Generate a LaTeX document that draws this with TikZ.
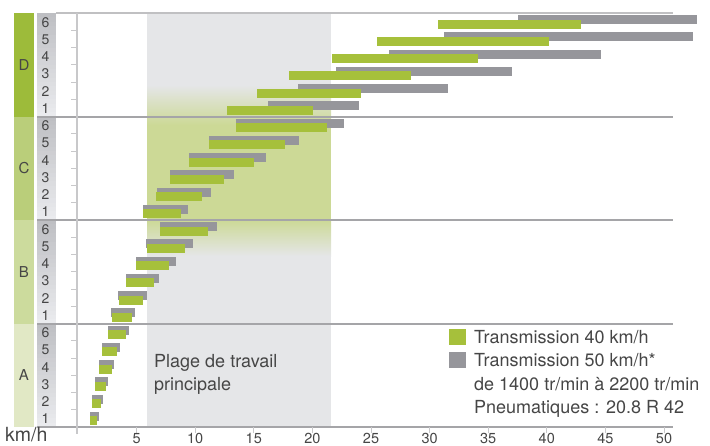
\documentclass[tikz,border=0pt]{standalone}
\usepackage{fontspec}
\setmainfont{TeX Gyre Heros}
\definecolor{barg}{RGB}{166,192,59}
\definecolor{bargr}{RGB}{150,150,155}
\definecolor{shadegray}{RGB}{229,230,232}
\definecolor{shadegreen}{RGB}{204,217,150}
\definecolor{grpD}{RGB}{157,187,58}
\definecolor{grpC}{RGB}{186,206,122}
\definecolor{grpB}{RGB}{204,219,157}
\definecolor{grpA}{RGB}{225,232,197}
\definecolor{txt}{RGB}{70,70,70}
\definecolor{gearTop}{RGB}{190,191,195}
\definecolor{gearBot}{RGB}{234,235,238}
\definecolor{gridline}{RGB}{165,165,168}
\definecolor{axisline}{RGB}{200,200,202}
\begin{document}
\begin{tikzpicture}[x=1pt,y=-1pt,
  lbl/.style={text=txt,inner sep=0pt},
  legtxt/.style={lbl,anchor=base west,font=\fontsize{18}{20}\selectfont},
  ticklbl/.style={lbl,anchor=base,font=\fontsize{14.5}{16}\selectfont},
  gearnum/.style={lbl,font=\fontsize{14}{15}\selectfont},
  grpletter/.style={lbl,font=\fontsize{15}{16}\selectfont},
  grid/.style={draw=gridline,line width=1.1pt},
  axis/.style={draw=axisline,line width=1.5pt},
  tickmark/.style={draw=axisline,line width=1pt}]
\useasboundingbox (0,0) rectangle (710,445);
% shaded working range
\fill[shadegray] (147,13) rectangle (331,427);
\shade[top color=shadegray,bottom color=shadegreen] (147,85) rectangle (331,125);
\fill[shadegreen] (147,124.5) rectangle (331,220.5);
\shade[top color=shadegreen,bottom color=shadegray] (147,220) rectangle (331,256);
% group bands
\fill[grpD] (14,13) rectangle (34,117);
\fill[grpC] (14,117) rectangle (34,220);
\fill[grpB] (14,220) rectangle (34,324);
\fill[grpA] (14,324) rectangle (34,427);
% gear number column (stepped vertical gradient per group)
\foreach \t in {13,116.5,220,323.5}{
  \foreach \i in {0,...,23}{
    \pgfmathtruncatemacro{\p}{round(\i*100/23)}
    \fill[gearBot!\p!gearTop] (37,{\t+\i*103.5/24}) rectangle (56,{\t+(\i+1)*103.5/24+0.3});
  }
}
% grid lines
\draw[draw=gridline!70,line width=1.3pt] (56,13) -- (673,13);
\foreach \y in {117,220,324}
  \draw[grid] (37,\y) -- (673,\y);
\draw[grid] (37,427) -- (673,427);
\draw[axis] (77,13) -- (77,434);
% y ticks
\foreach \k in {1,...,23}{
  \pgfmathtruncatemacro{\m}{mod(\k,6)}
  \ifnum\m>0 \draw[tickmark] (71,{13+\k*17.25}) -- (77,{13+\k*17.25}); \fi
}
% x ticks and labels
\foreach \v in {5,10,...,50}{
  \draw[tickmark] ({78+11.72*\v},427) -- ({78+11.72*\v},433);
  \node[ticklbl] (t\v) at ({78+11.72*\v},443) {\v};
}
\node[lbl,anchor=base west,font=\fontsize{19.5}{21}\selectfont] (kmh) at (5,441.5) {km/h};
% gear numbers
\foreach \k/\g in {0/6,1/5,2/4,3/3,4/2,5/1,6/6,7/5,8/4,9/3,10/2,11/1,12/6,13/5,14/4,15/3,16/2,17/1,18/6,19/5,20/4,21/3,22/2,23/1}
  \node[gearnum] (g\k) at (45.5,{13+\k*17.25+9.2}) {\g};
\node[grpletter] (D) at (24,65.5) {D};
\node[grpletter] (C) at (24,168.5) {C};
\node[grpletter] (B) at (24,272) {B};
\node[grpletter] (A) at (24,375.5) {A};
% bars
\foreach \k/\ga/\gb/\va/\vb in {
  0/518/697/438/581, 1/444/693/377/549, 2/389/601/332/478, 3/336/512/289/411,
  4/298/448/257/361, 5/268/359/227/313, 6/236/344/236/327, 7/209/299/209/285,
  8/189/266/189/254, 9/170/234/170/224, 10/157/211/156/202, 11/143/188/143/181,
  12/160/217/160/208, 13/146/193/147/185, 14/136/176/136/169, 15/126/159/126/154,
  16/118/147/119/143, 17/111/135/112/132, 18/108/129/108/126, 19/102/120/102/117,
  20/99/114/99/112, 21/95/108/95/106, 22/92/103/92/101, 23/90/99/90/97}{
  \fill[bargr] (\ga,{13+\k*17.25+2}) rectangle (\gb,{13+\k*17.25+11});
  \fill[barg] (\va,{13+\k*17.25+6.5}) rectangle (\vb,{13+\k*17.25+15.5});
}
% working range label
\node[legtxt] (plage1) at (154,367) {Plage de travail};
\node[legtxt] (plage2) at (154,390) {principale};
% legend
\fill[barg] (449,329) rectangle (466,345);
\fill[bargr] (449,352) rectangle (466,368);
\node[legtxt] (leg1) at (474,343) {Transmission 40 km/h};
\node[legtxt] (leg2) at (474,366.5) {Transmission 50 km/h*};
\node[legtxt] (leg3) at (474,390) {de 1400 tr/min à 2200 tr/min};
\node[legtxt] (leg4) at (474,413.5) {Pneumatiques : 20.8 R 42};
\end{tikzpicture}
\end{document}
